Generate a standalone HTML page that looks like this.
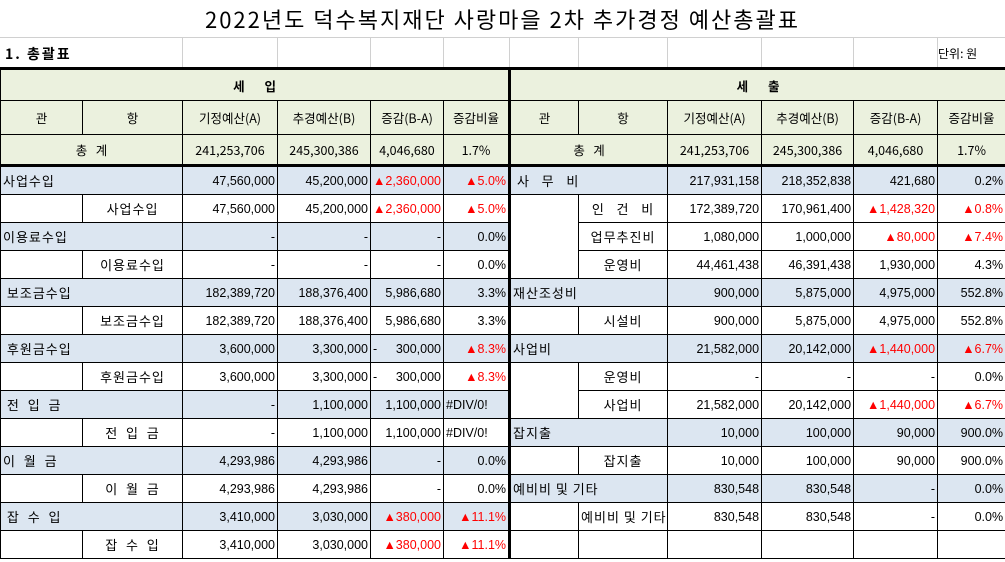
<!DOCTYPE html>
<html><head><meta charset="utf-8"><style>
body{margin:0;width:1005px;height:562px;overflow:hidden;background:#fff;font-family:"Liberation Sans","Noto Sans CJK KR",sans-serif;color:#000;position:relative}
.title{position:absolute;top:4px;left:0;width:1005px;text-align:center;font-size:22px;line-height:30px;font-family:"Noto Sans CJK KR",sans-serif;letter-spacing:2px}
.grid{position:absolute;top:37px;left:0;width:1005px;height:31px;border-top:1px solid #d0d0d0}
.grid i{position:absolute;top:0;height:31px;border-left:1px solid #d0d0d0}
.sub{position:absolute;top:44px;left:5px;font-size:14px;font-weight:bold;font-family:"Noto Sans CJK KR",sans-serif;letter-spacing:2px}
.unit{position:absolute;top:45px;left:938px;font-size:12px;font-family:"Noto Sans CJK KR",sans-serif}
table{position:absolute;top:67px;left:0;border-collapse:collapse;table-layout:fixed;width:1005px}
td{border:1px solid #000;padding:0 2px;font-size:12.5px;height:27px;white-space:nowrap;overflow:hidden}
.h td{background:#ebf1de;text-align:center;font-family:"Noto Sans CJK KR",sans-serif}
.n{text-align:right}
.b{background:#dce6f1}
.r{color:#ff0000}
.c{text-align:center}
.k{font-family:"Noto Sans CJK KR",sans-serif;font-size:13px;letter-spacing:1px}
.L{border-left:3px solid #000}
.sp{display:flex;justify-content:space-between}
</style></head><body>
<div class="title">2022년도 덕수복지재단 사랑마을 2차 추가경정 예산총괄표</div>
<div class="grid"><i style="left:182px"></i><i style="left:277px"></i><i style="left:370px"></i><i style="left:443px"></i><i style="left:509px"></i><i style="left:578px"></i><i style="left:667px"></i><i style="left:761px"></i><i style="left:853px"></i><i style="left:937px"></i></div>
<div class="sub">1. 총괄표</div>
<div class="unit">단위: 원</div>
<table>
<colgroup><col style="width:82px"><col style="width:100px"><col style="width:95px"><col style="width:93px"><col style="width:73px"><col style="width:66px"><col style="width:69px"><col style="width:89px"><col style="width:94px"><col style="width:92px"><col style="width:84px"><col style="width:68px"></colgroup>
<tr class="h" style="border-top:3px solid #000"><td colspan="6" style="height:30px;font-weight:bold">세&nbsp;&nbsp;&nbsp;&nbsp;&nbsp;&nbsp;&nbsp;입</td><td colspan="6" class="L" style="font-weight:bold">세&nbsp;&nbsp;&nbsp;&nbsp;&nbsp;&nbsp;&nbsp;출</td></tr>
<tr class="h"><td style="height:33px">관</td><td>항</td><td>기정예산(A)</td><td>추경예산(B)</td><td>증감(B-A)</td><td>증감비율</td><td class="L">관</td><td>항</td><td>기정예산(A)</td><td>추경예산(B)</td><td>증감(B-A)</td><td>증감비율</td></tr>
<tr class="h" style="border-bottom:3px solid #000"><td colspan="2" style="height:29px">총&nbsp;&nbsp;&nbsp;계</td><td class="n">241,253,706</td><td class="n">245,300,386</td><td class="n">4,046,680</td><td class="n">1.7%</td><td colspan="2" class="L">총&nbsp;&nbsp;&nbsp;계</td><td class="n">241,253,706</td><td class="n">245,300,386</td><td class="n">4,046,680</td><td class="n">1.7%</td></tr>

<tr><td colspan="2" class="b k">사업수입</td><td class="n b">47,560,000</td><td class="n b">45,200,000</td><td class="n b r">▲2,360,000</td><td class="n b r">▲5.0%</td><td colspan="2" class="b k L">&nbsp;사&nbsp;&nbsp;&nbsp;무&nbsp;&nbsp;&nbsp;비</td><td class="n b">217,931,158</td><td class="n b">218,352,838</td><td class="n b">421,680</td><td class="n b">0.2%</td></tr>
<tr><td></td><td class="c k">사업수입</td><td class="n">47,560,000</td><td class="n">45,200,000</td><td class="n r">▲2,360,000</td><td class="n r">▲5.0%</td><td rowspan="3" class="L"></td><td class="c k">인&nbsp;&nbsp;&nbsp;건&nbsp;&nbsp;&nbsp;비</td><td class="n">172,389,720</td><td class="n">170,961,400</td><td class="n r">▲1,428,320</td><td class="n r">▲0.8%</td></tr>
<tr><td colspan="2" class="b k">이용료수입</td><td class="n b">-</td><td class="n b">-</td><td class="n b">-</td><td class="n b">0.0%</td><td class="c k">업무추진비</td><td class="n">1,080,000</td><td class="n">1,000,000</td><td class="n r">▲80,000</td><td class="n r">▲7.4%</td></tr>
<tr><td></td><td class="c k">이용료수입</td><td class="n">-</td><td class="n">-</td><td class="n">-</td><td class="n">0.0%</td><td class="c k">운영비</td><td class="n">44,461,438</td><td class="n">46,391,438</td><td class="n">1,930,000</td><td class="n">4.3%</td></tr>
<tr><td colspan="2" class="b k">&nbsp;보조금수입</td><td class="n b">182,389,720</td><td class="n b">188,376,400</td><td class="n b">5,986,680</td><td class="n b">3.3%</td><td colspan="2" class="b k L">재산조성비</td><td class="n b">900,000</td><td class="n b">5,875,000</td><td class="n b">4,975,000</td><td class="n b">552.8%</td></tr>
<tr><td></td><td class="c k">보조금수입</td><td class="n">182,389,720</td><td class="n">188,376,400</td><td class="n">5,986,680</td><td class="n">3.3%</td><td class="L"></td><td class="c k">시설비</td><td class="n">900,000</td><td class="n">5,875,000</td><td class="n">4,975,000</td><td class="n">552.8%</td></tr>
<tr><td colspan="2" class="b k">&nbsp;후원금수입</td><td class="n b">3,600,000</td><td class="n b">3,300,000</td><td class="b"><div class="sp"><span>-</span><span>300,000</span></div></td><td class="n b r">▲8.3%</td><td colspan="2" class="b k L">사업비</td><td class="n b">21,582,000</td><td class="n b">20,142,000</td><td class="n b r">▲1,440,000</td><td class="n b r">▲6.7%</td></tr>
<tr><td></td><td class="c k">후원금수입</td><td class="n">3,600,000</td><td class="n">3,300,000</td><td><div class="sp"><span>-</span><span>300,000</span></div></td><td class="n r">▲8.3%</td><td rowspan="2" class="L"></td><td class="c k">운영비</td><td class="n">-</td><td class="n">-</td><td class="n">-</td><td class="n">0.0%</td></tr>
<tr><td colspan="2" class="b k">&nbsp;전&nbsp;&nbsp;입&nbsp;&nbsp;금</td><td class="n b">-</td><td class="n b">1,100,000</td><td class="n b">1,100,000</td><td class="b">#DIV/0!</td><td class="c k">사업비</td><td class="n">21,582,000</td><td class="n">20,142,000</td><td class="n r">▲1,440,000</td><td class="n r">▲6.7%</td></tr>
<tr><td></td><td class="c k">전&nbsp;&nbsp;입&nbsp;&nbsp;금</td><td class="n">-</td><td class="n">1,100,000</td><td class="n">1,100,000</td><td>#DIV/0!</td><td colspan="2" class="b k L">잡지출</td><td class="n b">10,000</td><td class="n b">100,000</td><td class="n b">90,000</td><td class="n b">900.0%</td></tr>
<tr><td colspan="2" class="b k">이&nbsp;&nbsp;월&nbsp;&nbsp;금</td><td class="n b">4,293,986</td><td class="n b">4,293,986</td><td class="n b">-</td><td class="n b">0.0%</td><td class="L"></td><td class="c k">잡지출</td><td class="n">10,000</td><td class="n">100,000</td><td class="n">90,000</td><td class="n">900.0%</td></tr>
<tr><td></td><td class="c k">이&nbsp;&nbsp;월&nbsp;&nbsp;금</td><td class="n">4,293,986</td><td class="n">4,293,986</td><td class="n">-</td><td class="n">0.0%</td><td colspan="2" class="b k L">예비비 및 기타</td><td class="n b">830,548</td><td class="n b">830,548</td><td class="n b">-</td><td class="n b">0.0%</td></tr>
<tr><td colspan="2" class="b k">&nbsp;잡&nbsp;&nbsp;수&nbsp;&nbsp;입</td><td class="n b">3,410,000</td><td class="n b">3,030,000</td><td class="n b r">▲380,000</td><td class="n b r">▲11.1%</td><td class="L"></td><td class="c k">예비비 및 기타</td><td class="n">830,548</td><td class="n">830,548</td><td class="n">-</td><td class="n">0.0%</td></tr>
<tr><td></td><td class="c k">잡&nbsp;&nbsp;수&nbsp;&nbsp;입</td><td class="n">3,410,000</td><td class="n">3,030,000</td><td class="n r">▲380,000</td><td class="n r">▲11.1%</td><td class="L"></td><td></td><td></td><td></td><td></td><td></td></tr>
</table>
</body></html>
